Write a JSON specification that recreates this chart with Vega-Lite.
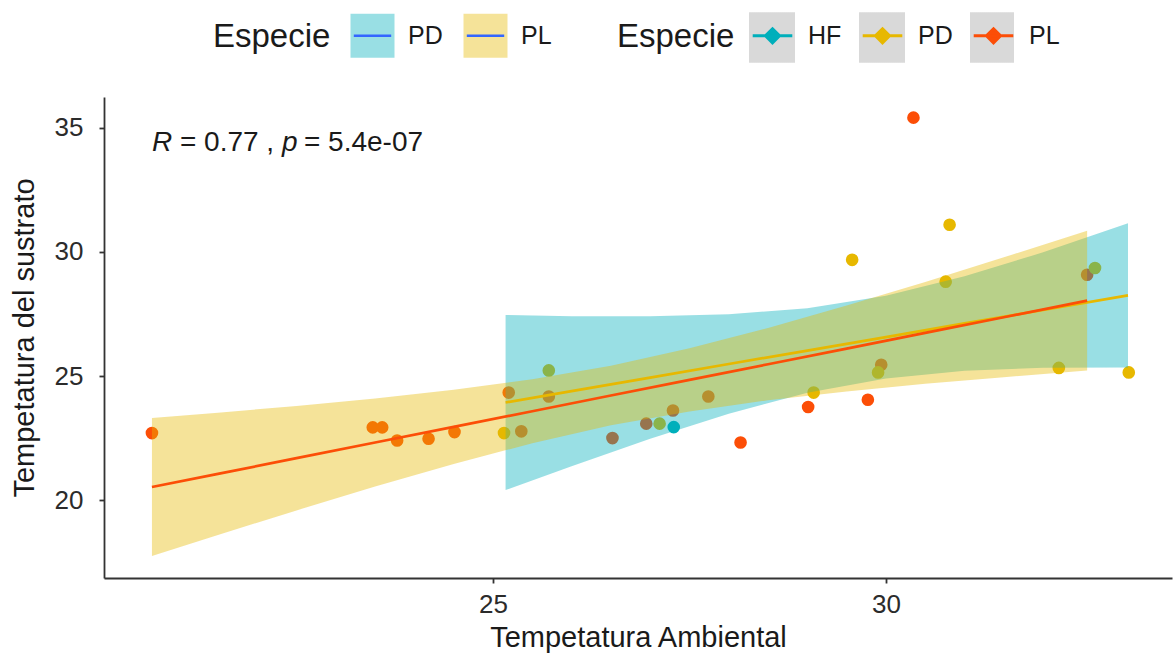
{
  "$schema": "https://vega.github.io/schema/vega-lite/v6.json",
  "width": 1068,
  "height": 481,
  "autosize": {"type": "none"},
  "padding": {"left": 104, "top": 97, "right": 2, "bottom": 79},
  "background": "white",
  "config": {
    "view": {"stroke": null},
    "font": "Liberation Sans",
    "axis": {
      "grid": false,
      "domainColor": "#333333",
      "domainWidth": 1.8,
      "tickColor": "#333333",
      "tickWidth": 1.8,
      "tickSize": 5,
      "labelFontSize": 26,
      "labelColor": "#2b2b2b",
      "labelFont": "Liberation Sans",
      "titleFont": "Liberation Sans",
      "titleFontSize": 29,
      "titleFontWeight": "normal",
      "titleColor": "#1a1a1a"
    },
    "legend": {
      "titleFont": "Liberation Sans",
      "labelFont": "Liberation Sans",
      "titleFontSize": 33,
      "titleFontWeight": "normal",
      "titleColor": "#1a1a1a",
      "labelFontSize": 25,
      "labelColor": "#1a1a1a"
    }
  },
  "datasets": {
    "pts": [
      {"Especie": "PL", "x": 20.66, "y": 22.71},
      {"Especie": "PL", "x": 23.47, "y": 22.94},
      {"Especie": "PL", "x": 23.59, "y": 22.94},
      {"Especie": "PL", "x": 23.78, "y": 22.41},
      {"Especie": "PL", "x": 24.18, "y": 22.48},
      {"Especie": "PL", "x": 24.51, "y": 22.75},
      {"Especie": "PL", "x": 25.20, "y": 24.34},
      {"Especie": "PL", "x": 25.71, "y": 24.18},
      {"Especie": "PL", "x": 25.36, "y": 22.78},
      {"Especie": "PL", "x": 26.52, "y": 22.51},
      {"Especie": "PL", "x": 26.95, "y": 23.09},
      {"Especie": "PL", "x": 27.29, "y": 23.62},
      {"Especie": "PL", "x": 27.74, "y": 24.18},
      {"Especie": "PL", "x": 28.15, "y": 22.33},
      {"Especie": "PL", "x": 29.01, "y": 23.76},
      {"Especie": "PL", "x": 30.35, "y": 35.40},
      {"Especie": "PL", "x": 29.94, "y": 25.46},
      {"Especie": "PL", "x": 29.77, "y": 24.05},
      {"Especie": "PL", "x": 32.56, "y": 29.08},
      {"Especie": "PD", "x": 25.14, "y": 22.71},
      {"Especie": "PD", "x": 25.71, "y": 25.23},
      {"Especie": "PD", "x": 27.12, "y": 23.09},
      {"Especie": "PD", "x": 29.08, "y": 24.34},
      {"Especie": "PD", "x": 30.81, "y": 31.09},
      {"Especie": "PD", "x": 29.57, "y": 29.68},
      {"Especie": "PD", "x": 30.76, "y": 28.80},
      {"Especie": "PD", "x": 29.90, "y": 25.15},
      {"Especie": "PD", "x": 32.66, "y": 29.35},
      {"Especie": "PD", "x": 32.20, "y": 25.33},
      {"Especie": "PD", "x": 33.09, "y": 25.15},
      {"Especie": "HF", "x": 27.30, "y": 22.95}
    ],
    "fit": [
      {"Especie": "PD", "x": 25.16, "lo": 20.42, "hi": 27.46, "fit": 23.94},
      {"Especie": "PD", "x": 26.0, "lo": 21.38, "hi": 27.41, "fit": 24.40},
      {"Especie": "PD", "x": 27.0, "lo": 22.48, "hi": 27.41, "fit": 24.94},
      {"Especie": "PD", "x": 28.0, "lo": 23.49, "hi": 27.49, "fit": 25.49},
      {"Especie": "PD", "x": 29.0, "lo": 24.33, "hi": 27.73, "fit": 26.03},
      {"Especie": "PD", "x": 30.0, "lo": 24.91, "hi": 28.23, "fit": 26.57},
      {"Especie": "PD", "x": 31.0, "lo": 25.22, "hi": 29.02, "fit": 27.12},
      {"Especie": "PD", "x": 32.0, "lo": 25.34, "hi": 29.98, "fit": 27.66},
      {"Especie": "PD", "x": 33.08, "lo": 25.35, "hi": 31.15, "fit": 28.25},
      {"Especie": "PL", "x": 20.66, "lo": 17.77, "hi": 23.32, "fit": 20.54},
      {"Especie": "PL", "x": 21.5, "lo": 18.61, "hi": 23.53, "fit": 21.07},
      {"Especie": "PL", "x": 22.5, "lo": 19.60, "hi": 23.80, "fit": 21.70},
      {"Especie": "PL", "x": 23.5, "lo": 20.56, "hi": 24.10, "fit": 22.33},
      {"Especie": "PL", "x": 24.5, "lo": 21.47, "hi": 24.45, "fit": 22.96},
      {"Especie": "PL", "x": 25.5, "lo": 22.30, "hi": 24.88, "fit": 23.59},
      {"Especie": "PL", "x": 26.5, "lo": 23.02, "hi": 25.42, "fit": 24.22},
      {"Especie": "PL", "x": 27.5, "lo": 23.58, "hi": 26.12, "fit": 24.85},
      {"Especie": "PL", "x": 28.5, "lo": 24.03, "hi": 26.94, "fit": 25.48},
      {"Especie": "PL", "x": 29.5, "lo": 24.38, "hi": 27.84, "fit": 26.11},
      {"Especie": "PL", "x": 30.5, "lo": 24.69, "hi": 28.79, "fit": 26.74},
      {"Especie": "PL", "x": 31.5, "lo": 24.96, "hi": 29.78, "fit": 27.37},
      {"Especie": "PL", "x": 32.56, "lo": 25.23, "hi": 30.85, "fit": 28.04}
    ],
    "ann": [{"x": 20.66, "y": 34.38}]
  },
  "layer": [
    {
      "data": {"name": "pts"},
      "mark": {"type": "circle", "size": 160, "opacity": 1},
      "encoding": {
        "x": {"field": "x", "type": "quantitative", "title": "Tempetatura Ambiental",
              "scale": {"domain": [20.05, 33.64], "nice": false, "zero": false},
              "axis": {"values": [25, 30], "format": "d", "labelPadding": 8, "titlePadding": 6}},
        "y": {"field": "y", "type": "quantitative", "title": "Tempetatura del sustrato",
              "scale": {"domain": [16.88, 36.23], "nice": false, "zero": false},
              "axis": {"values": [20, 25, 30, 35], "format": "d", "labelPadding": 16, "titlePadding": 15}},
        "color": {"field": "Especie", "type": "nominal",
                  "scale": {"domain": ["HF", "PD", "PL"], "range": ["#00AFBB", "#E7B800", "#FC4E07"]},
                  "legend": {"title": "Especie", "orient": "none", "legendX": 513, "legendY": -85,
                             "direction": "horizontal", "titleOrient": "left",
                             "titlePadding": 14, "labelOffset": 12, "columnPadding": 14,
                             "symbolType": "M0,-0.95L0,-0.95M0,0.95L0,0.95M-0.9,0H0.9M0,-0.32L0.32,0L0,0.32L-0.32,0Z",
                             "symbolSize": 1936, "symbolStrokeWidth": 3, "symbolOpacity": 1,
                             "encode": {
                               "symbols": {"update": {"fill": {"scale": "color", "field": "value"}, "stroke": {"scale": "color", "field": "value"}}},
                               "entries": {"update": {"fill": {"value": {"gradient": "linear", "x1": 0, "y1": 0, "x2": 1, "y2": 0, "stops": [{"offset": 0, "color": "#d9d9d9"}, {"offset": 0.495, "color": "#d9d9d9"}, {"offset": 0.495, "color": "rgba(255,255,255,0)"}, {"offset": 1, "color": "rgba(255,255,255,0)"}]}}}}
                             }}}
      }
    },
    {
      "data": {"name": "fit"},
      "mark": {"type": "area", "fillOpacity": 0.4},
      "encoding": {
        "x": {"field": "x", "type": "quantitative", "title": "Tempetatura Ambiental"},
        "y": {"field": "lo", "type": "quantitative", "title": "Tempetatura del sustrato"},
        "y2": {"field": "hi"},
        "fill": {"field": "Especie", "type": "nominal",
                 "scale": {"domain": ["PD", "PL"], "range": ["#00AFBB", "#E7B800"]},
                 "legend": {"title": "Especie", "orient": "none", "legendX": 109, "legendY": -85,
                            "direction": "horizontal", "titleOrient": "left",
                            "titlePadding": 18, "labelOffset": 12, "columnPadding": 15,
                            "symbolType": "M-0.85,0L0.85,0L1,0L1,1L-1,1L-1,-1L1,-1L1,0Z",
                            "symbolSize": 1936, "symbolStrokeWidth": 2.5, "symbolDash": [37.4, 10000],
                            "encode": {
                              "symbols": {"update": {"fill": {"scale": "fill", "field": "value"}, "fillOpacity": {"value": 0.4}, "stroke": {"value": "#3366FF"}, "strokeOpacity": {"value": 1}, "opacity": {"value": 1}, "strokeDash": {"value": [37.4, 10000]}}}
                            }}}
      }
    },
    {
      "data": {"name": "fit"},
      "mark": {"type": "line", "strokeWidth": 2.7},
      "encoding": {
        "x": {"field": "x", "type": "quantitative", "title": "Tempetatura Ambiental"},
        "y": {"field": "fit", "type": "quantitative", "title": "Tempetatura del sustrato"},
        "color": {"field": "Especie", "type": "nominal",
                  "legend": {"title": "Especie", "orient": "none", "legendX": 513, "legendY": -85,
                             "direction": "horizontal", "titleOrient": "left",
                             "titlePadding": 14, "labelOffset": 12, "columnPadding": 14,
                             "symbolType": "M0,-0.95L0,-0.95M0,0.95L0,0.95M-0.9,0H0.9M0,-0.32L0.32,0L0,0.32L-0.32,0Z",
                             "symbolSize": 1936, "symbolStrokeWidth": 3, "symbolOpacity": 1,
                             "encode": {
                               "symbols": {"update": {"fill": {"scale": "color", "field": "value"}, "stroke": {"scale": "color", "field": "value"}}},
                               "entries": {"update": {"fill": {"value": {"gradient": "linear", "x1": 0, "y1": 0, "x2": 1, "y2": 0, "stops": [{"offset": 0, "color": "#d9d9d9"}, {"offset": 0.495, "color": "#d9d9d9"}, {"offset": 0.495, "color": "rgba(255,255,255,0)"}, {"offset": 1, "color": "rgba(255,255,255,0)"}]}}}}
                             }}}
      }
    },
    {
      "data": {"name": "ann"},
      "mark": {"type": "text", "align": "left", "baseline": "middle", "fontSize": 28, "fontStyle": "italic", "color": "#1a1a1a", "font": "Liberation Sans", "text": "R"},
      "encoding": {"x": {"field": "x", "type": "quantitative"}, "y": {"field": "y", "type": "quantitative"}}
    },
    {
      "data": {"name": "ann"},
      "mark": {"type": "text", "align": "left", "baseline": "middle", "fontSize": 28, "color": "#1a1a1a", "font": "Liberation Sans", "text": "= 0.77 ,", "dx": 28},
      "encoding": {"x": {"field": "x", "type": "quantitative"}, "y": {"field": "y", "type": "quantitative"}}
    },
    {
      "data": {"name": "ann"},
      "mark": {"type": "text", "align": "left", "baseline": "middle", "fontSize": 28, "fontStyle": "italic", "color": "#1a1a1a", "font": "Liberation Sans", "text": "p", "dx": 130},
      "encoding": {"x": {"field": "x", "type": "quantitative"}, "y": {"field": "y", "type": "quantitative"}}
    },
    {
      "data": {"name": "ann"},
      "mark": {"type": "text", "align": "left", "baseline": "middle", "fontSize": 28, "color": "#1a1a1a", "font": "Liberation Sans", "text": "= 5.4e-07", "dx": 152},
      "encoding": {"x": {"field": "x", "type": "quantitative"}, "y": {"field": "y", "type": "quantitative"}}
    }
  ]
}
